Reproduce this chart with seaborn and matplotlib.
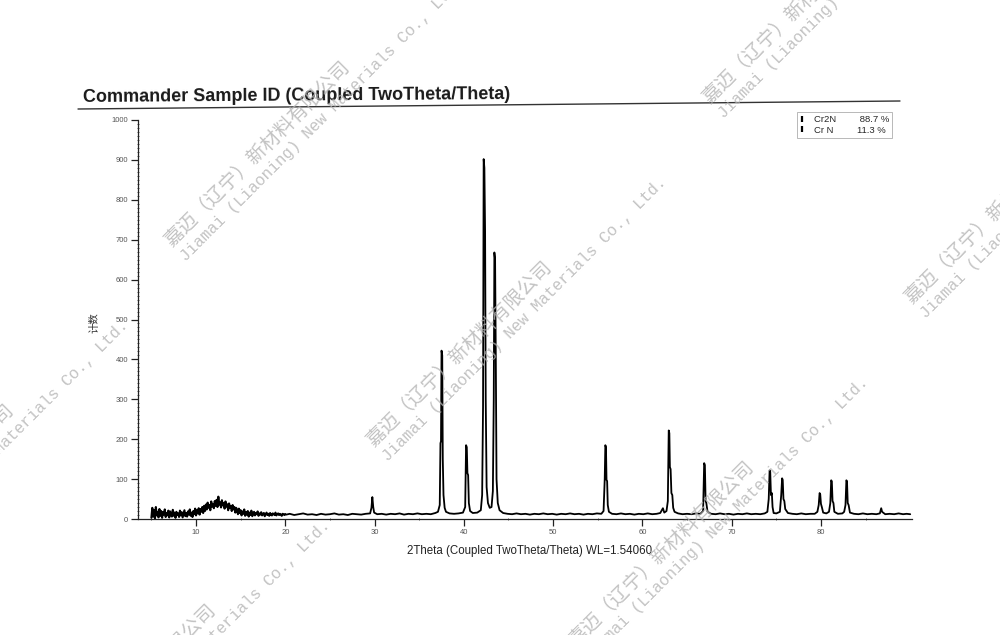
import numpy as np
import pandas as pd
import matplotlib.pyplot as plt
import seaborn as sns
from matplotlib.lines import Line2D

# --- scan data ---
# low angle part, one reading every 0.1 deg from 5.0 to 20.0
low_start = 5.0
low_step = 0.1
low_counts = [
    3, 28, 6, 22, 2, 30, 9, 18, 4, 25,
    8, 20, 3, 17, 11, 24, 5, 15, 9, 21,
    4, 19, 12, 6, 23, 8, 16, 3, 18, 10,
    14, 5, 21, 9, 17, 4, 13, 22, 7, 15,
    6, 19, 11, 24, 8, 16, 5, 20, 12, 26,
    9, 22, 14, 27, 11, 25, 18, 30, 15, 33,
    20, 36, 24, 41, 28, 35, 22, 44, 31, 38,
    27, 45, 33, 48, 30, 56, 36, 42, 29, 47,
    34, 40, 26, 44, 31, 37, 22, 39, 28, 33,
    20, 35, 24, 30, 16, 28, 21, 12, 26, 15,
    22, 9, 19, 13, 24, 8, 17, 11, 20, 6,
    16, 10, 21, 7, 14, 18, 9, 15, 12, 19,
    8, 14, 11, 17, 9, 13, 15, 7, 12, 16,
    10, 13, 8, 15, 11, 9, 14, 12, 10, 16,
    9, 12, 14, 10, 13, 11, 8, 13, 12, 10,
    12,
]

# rest of the scan, traced point by point (2theta, counts)
high_theta = [
    20.0, 20.1, 20.5, 21.0, 21.5, 22.0, 22.5, 23.0, 23.5, 24.0, 24.5, 25.0, 25.5,
    26.0, 26.5, 27.0, 27.5, 28.0, 28.5, 29.0, 29.5, 29.65, 29.75, 29.85, 29.95,
    30.3, 30.8, 31.3, 31.8, 32.3, 32.8, 33.3, 33.8, 34.3, 34.8, 35.3, 35.8,
    36.3, 36.8, 37.1, 37.3, 37.38, 37.44, 37.5, 37.58, 37.64, 37.72, 37.85, 38.0,
    38.4, 38.9, 39.4, 39.9, 40.15, 40.25, 40.33, 40.4, 40.48, 40.56, 40.7, 41.0,
    41.5, 41.9, 42.05, 42.15, 42.22, 42.3, 42.38, 42.45, 42.55, 42.7, 42.9, 43.1,
    43.25, 43.35, 43.42, 43.5, 43.58, 43.66, 43.8, 44.0, 44.4,
    44.9, 45.4, 45.9, 46.4, 46.9, 47.4, 47.9, 48.4, 48.9, 49.4, 49.9, 50.4,
    50.9, 51.4, 51.9, 52.4, 52.9, 53.4, 53.9, 54.4, 54.9, 55.4, 55.65, 55.78,
    55.85, 55.92, 55.98, 56.05, 56.12, 56.25, 56.6, 57.1, 57.6, 58.1, 58.6, 59.1,
    59.6, 60.1, 60.6, 61.1, 61.6, 62.0, 62.3, 62.45, 62.7, 62.85, 62.95, 63.02,
    63.08, 63.16, 63.25, 63.35, 63.45, 63.6, 64.0, 64.5, 65.0, 65.5, 66.0, 66.5,
    66.8, 66.92, 67.0, 67.08, 67.16, 67.3, 67.7, 68.2, 68.7, 69.2, 69.7, 70.2,
    70.7, 71.2, 71.7, 72.2, 72.7, 73.2, 73.7, 74.0, 74.15, 74.25, 74.32, 74.4,
    74.5, 74.58, 74.7, 75.0, 75.4, 75.55, 75.65, 75.72, 75.8, 75.9, 76.0, 76.3,
    76.8, 77.3, 77.8, 78.3, 78.8, 79.3, 79.6, 79.75, 79.85, 79.92, 80.0, 80.1,
    80.25, 80.6, 80.9, 81.05, 81.15, 81.22, 81.3, 81.4, 81.5, 81.9, 82.4, 82.6,
    82.75, 82.85, 82.92, 83.0, 83.1, 83.25, 83.7, 84.2, 84.7, 85.2, 85.7, 86.2,
    86.6, 86.75, 86.85, 87.2, 87.7, 88.2, 88.7, 89.2, 89.6, 90.0,
]
high_counts = [
    12, 11, 13, 10, 12, 14, 11, 12, 10, 13, 11, 12, 14,
    11, 12, 10, 13, 12, 11, 13, 14, 28, 55, 30, 16,
    12, 13, 11, 13, 12, 14, 11, 13, 12, 14, 12, 13,
    12, 15, 18, 35, 190, 195, 422, 410, 150, 60, 28, 18,
    14, 13, 14, 16, 30, 185, 180, 115, 110, 40, 20, 15,
    16, 22, 60, 280, 902, 880, 720, 300, 80, 40, 28, 30,
    70, 300, 668, 650, 400, 100, 40, 22, 15,
    13, 12, 14, 12, 13, 11, 13, 12, 14, 12, 13, 11,
    13, 12, 14, 12, 13, 11, 13, 12, 14, 13, 20, 100,
    185, 180, 98, 95, 35, 18, 13, 12, 14, 12, 13, 11,
    13, 12, 14, 12, 13, 15, 27, 16, 20, 45, 222, 215,
    130, 125, 65, 60, 28, 18, 14, 12, 13, 12, 14, 13,
    20, 140, 135, 45, 40, 18, 13, 12, 14, 12, 13, 11,
    13, 12, 14, 12, 13, 12, 14, 18, 50, 122, 118, 60,
    65, 30, 15, 14, 18, 60, 102, 98, 50, 45, 25, 15,
    13, 12, 14, 12, 13, 13, 18, 35, 65, 62, 38, 30,
    16, 14, 18, 40, 97, 94, 45, 40, 18, 13, 14, 18,
    35, 97, 94, 40, 35, 16, 13, 12, 14, 12, 13, 12,
    14, 27, 18, 12, 13, 12, 14, 12, 13, 12,
]

phases = ["Cr2N", "Cr N"]
phase_pct = ["88.7 %", "11.3 %"]

x_ticks = [10, 20, 30, 40, 50, 60, 70, 80]
y_ticks = [0, 100, 200, 300, 400, 500, 600, 700, 800, 900, 1000]

title = "Commander Sample ID (Coupled TwoTheta/Theta)"
x_label = "2Theta (Coupled TwoTheta/Theta) WL=1.54060"
y_label = "计数"

wm_cn = "嘉迈（辽宁）新材料有限公司"
wm_en = "Jiamai (Liaoning) New Materials Co., Ltd."

low_theta = np.round(low_start + low_step * np.arange(len(low_counts)), 2)
low_df = pd.DataFrame({"two_theta": low_theta, "counts": low_counts})
high_df = pd.DataFrame({"two_theta": high_theta, "counts": high_counts})

sns.set_theme(style="white")
plt.rcParams["font.family"] = ["Liberation Sans", "Noto Sans CJK SC", "DejaVu Sans"]

W, H = 1000, 635
fig = plt.figure(figsize=(W / 100, H / 100), dpi=100)
fig.patch.set_facecolor("white")
ax = fig.add_axes([138 / W, 1 - 519 / H, 774 / W, 399 / H])
ax.set_facecolor("none")

# noisy low angle band is drawn a bit heavier, like on the print
sns.lineplot(data=low_df, x="two_theta", y="counts", sort=False, estimator=None,
             color="black", linewidth=1.5, ax=ax, legend=False)
sns.lineplot(data=high_df, x="two_theta", y="counts", sort=False, estimator=None,
             color="black", linewidth=1.3, ax=ax, legend=False)

ax.set_xlim(3.5, 90.2)
ax.set_ylim(0, 1000)
ax.set_xticks(x_ticks)
ax.set_xticks(np.arange(5, 90, 5), minor=True)
ax.set_yticks(y_ticks)
ax.set_yticks(np.arange(0, 1001, 10), minor=True)
ax.tick_params(axis="both", which="major", labelsize=5.5, labelcolor="#555555",
               color="#222222", width=0.9, length=5, direction="out", pad=2,
               bottom=True, left=True)
ax.tick_params(axis="both", which="minor", color="#444444", width=0.6,
               length=2, direction="inout", bottom=True, left=True)
ax.set_xlabel("")
ax.set_ylabel("")
sns.despine(ax=ax)
for s in ["left", "bottom"]:
    ax.spines[s].set_color("#222222")
    ax.spines[s].set_linewidth(0.9)

# legend with phase fractions
handles = [Line2D([], [], marker="|", ls="none", color="black",
                  markersize=4.5, markeredgewidth=1.6) for _ in phases]
labels = [f"{p}         {v}" for p, v in zip(phases, phase_pct)]
leg = ax.legend(handles, labels, loc="upper right",
                bbox_to_anchor=(892 / W, 1 - 112 / H),
                bbox_transform=fig.transFigure, fontsize=6.8, frameon=True,
                fancybox=False, borderpad=0.3, handlelength=0.5,
                handletextpad=1.0, labelspacing=0.2, borderaxespad=0)
leg.get_frame().set_edgecolor("#999999")
leg.get_frame().set_linewidth(0.6)

# header
fig.text(83 / W, 1 - 102 / H, title, fontsize=13, fontweight="bold",
         color="#1a1a1a", ha="left", va="baseline", rotation=0.4,
         rotation_mode="anchor")
fig.add_artist(Line2D([78 / W, 900 / W], [1 - 109 / H, 1 - 101 / H],
                      transform=fig.transFigure, color="#333333", lw=1.0))

fig.text(530 / W, 1 - 551 / H, x_label, fontsize=8.3, color="#222222",
         ha="center", va="center")
fig.text(95 / W, 1 - 323 / H, y_label, fontsize=7.5, color="#333333",
         rotation=90, ha="center", va="center",
         family=["Noto Sans CJK SC", "DejaVu Sans"])

# watermark tiling (one tile near the top-left corner is not on the print)
a = np.array([202, 200])
b = np.array([538, -143])
origin = np.array([172, 248])
perp = np.array([14, 14])
for i in range(-2, 4):
    for j in range(-2, 3):
        if (i, j) == (-1, 0):
            continue
        p = origin + i * a + j * b
        q = p + perp
        fig.text(p[0] / W, 1 - p[1] / H, wm_cn, fontsize=14, color="#b4b4b4",
                 alpha=0.8, rotation=45, rotation_mode="anchor",
                 ha="left", va="baseline", fontweight="light",
                 family=["Noto Sans CJK SC", "DejaVu Sans"])
        fig.text(q[0] / W, 1 - q[1] / H, wm_en, fontsize=11.5, color="#b4b4b4",
                 alpha=0.8, rotation=45, rotation_mode="anchor",
                 ha="left", va="baseline", family="Liberation Mono")

fig.savefig("out.png", dpi=100, facecolor="white")
